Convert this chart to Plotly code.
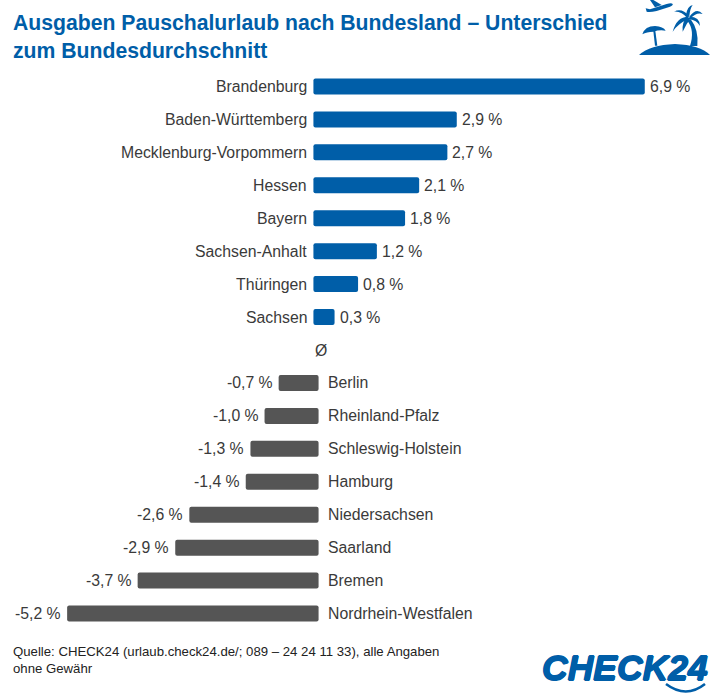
import re
import plotly.graph_objects as go

TITLE = "Ausgaben Pauschalurlaub nach Bundesland – Unterschied<br>zum Bundesdurchschnitt"
SOURCE = "Quelle: CHECK24 (urlaub.check24.de/; 089 – 24 24 11 33), alle Angaben<br>ohne Gewähr"
pos_states = ["Brandenburg", "Baden-Württemberg", "Mecklenburg-Vorpommern", "Hessen", "Bayern",
              "Sachsen-Anhalt", "Thüringen", "Sachsen"]
pos_values = [6.9, 2.9, 2.7, 2.1, 1.8, 1.2, 0.8, 0.3]
neg_states = ["Berlin", "Rheinland-Pfalz", "Schleswig-Holstein", "Hamburg", "Niedersachsen",
              "Saarland", "Bremen", "Nordrhein-Westfalen"]
neg_values = [-0.7, -1.0, -1.3, -1.4, -2.6, -2.9, -3.7, -5.2]
AVG = "Ø"

W, H = 710, 695
TOP, BOTTOM = 70, 630
ZERO_PX, SCALE = 316, 47
BLUE, GREY, INK = "#005EA8", "#555555", "#3a3a3a"
FONT = "Liberation Sans"
CAP, STUB = 0.095, 0.055   # rounded bar overhang in axis units


def fmt(v):
    return f"{v:.1f}".replace(".", ",") + " %"


def paper_x(v):
    return v / W


def paper_y(v):
    return (BOTTOM - v) / (BOTTOM - TOP)


def icon_path(path):
    """Icon paths are sketched at 3x around page x=600; map them to paper coordinates."""
    def repl(m):
        return f"{paper_x(600 + float(m.group(1)) / 3):.5f},{paper_y(float(m.group(2)) / 3):.5f}"
    return re.sub(r"(-?\d+\.?\d*) (-?\d+\.?\d*)", repl, path)


ICON = [
    "M117 165 Q150 135 225 132 Q300 135 330 165 Z",
    "M262 62 Q285 90 270 138 L292 138 Q297 90 272 58 Z",
    "M265 50 Q230 50 218 95 Q235 70 265 58 Z",
    "M268 48 Q245 22 222 35 Q245 33 262 55 Z",
    "M268 48 Q270 25 278 15 Q262 18 258 45 Z",
    "M268 50 Q290 20 308 42 Q290 35 272 55 Z",
    "M268 50 Q300 50 300 78 Q290 60 268 58 Z",
    "M262 52 Q245 65 248 95 Q260 70 272 55 Z",
    "M127 103 Q135 78 165 78 Q190 80 197 92 Q180 88 160 95 Q140 95 127 103 Z",
    "M160 93 L166 93 L172 137 L165 137 Z",
    "M218 12 Q215 8 200 12 L150 28 L137 25 L140 35 Q150 37 170 33 L210 20 Q220 16 218 12 Z",
    "M150 0 L160 0 L185 15 L165 22 Z",
]

categories = pos_states + [AVG] + neg_states

fig = go.Figure()
fig.add_bar(y=pos_states, x=[v + CAP + STUB for v in pos_values], base=-STUB, orientation="h",
            marker=dict(color=BLUE, cornerradius=2, line=dict(width=0)), hoverinfo="skip")
fig.add_bar(y=neg_states, x=[v - CAP - STUB for v in neg_values], base=STUB, orientation="h",
            marker=dict(color=GREY, cornerradius=2, line=dict(width=0)), hoverinfo="skip")

txt = dict(family=FONT, size=15.8, color=INK)
notes = []


def label(x, y, text, anchor, xshift):
    notes.append(dict(x=x, y=y, xref="x", yref="y", text=text, xanchor=anchor, yanchor="middle",
                      xshift=xshift, yshift=0, showarrow=False, font=txt, borderpad=0, borderwidth=0))


for s, v in zip(pos_states, pos_values):
    label(v + CAP, s, fmt(v), "left", 5)
    label(-STUB, s, s, "right", -6)
for s, v in zip(neg_states, neg_values):
    label(v - CAP, s, fmt(v), "right", -6)
    label(STUB, s, s, "left", 9.5)
label(0.11, AVG, AVG, "center", 0)

notes.append(dict(text=TITLE, xref="paper", yref="paper", x=paper_x(13), y=paper_y(36), xanchor="left",
                  yanchor="middle", align="left", showarrow=False, borderpad=0, borderwidth=0,
                  font=dict(family=FONT, size=21.2, color=BLUE, weight="bold")))
notes.append(dict(text=SOURCE, xref="paper", yref="paper", x=paper_x(13), y=paper_y(660), xanchor="left",
                  yanchor="middle", align="left", showarrow=False, borderpad=0, borderwidth=0,
                  font=dict(family=FONT, size=13.2, color="#222222")))
notes.append(dict(text="<b><i>CHECK24</i></b>", xref="paper", yref="paper", x=paper_x(708),
                  y=paper_y(668), xanchor="right", yanchor="middle", showarrow=False,
                  borderpad=0, borderwidth=0,
                  font=dict(family=FONT, size=35.5, color=BLUE,
                            shadow=f"0.7px 0 0 {BLUE}, -0.7px 0 0 {BLUE}, 0 0.7px 0 {BLUE}, 0 -0.7px 0 {BLUE}")))

shapes = [dict(type="path", path=icon_path(p), xref="paper", yref="paper", fillcolor=BLUE,
               line=dict(width=0), layer="above") for p in ICON]
shapes.append(dict(type="path", xref="paper", yref="paper", layer="above",
                   path=(f"M{paper_x(666):.5f},{paper_y(684):.5f} Q{paper_x(686):.5f},{paper_y(699):.5f} "
                         f"{paper_x(705):.5f},{paper_y(684):.5f}"),
                   line=dict(color=BLUE, width=2.5)))

fig.update_layout(
    width=W, height=H, margin=dict(l=0, r=0, t=TOP, b=H - BOTTOM, autoexpand=False),
    paper_bgcolor="white", plot_bgcolor="white", showlegend=False, barmode="overlay", bargap=0.514,
    xaxis=dict(visible=False, range=[(0 - ZERO_PX) / SCALE, (W - ZERO_PX) / SCALE], fixedrange=True),
    yaxis=dict(visible=False, type="category", categoryorder="array", categoryarray=categories,
               autorange=False, range=[len(categories) - 0.5, -0.5], fixedrange=True),
    shapes=shapes, annotations=notes,
)
fig.write_html("out.html", post_script="document.body.style.margin='0';",
               config=dict(displayModeBar=False))
